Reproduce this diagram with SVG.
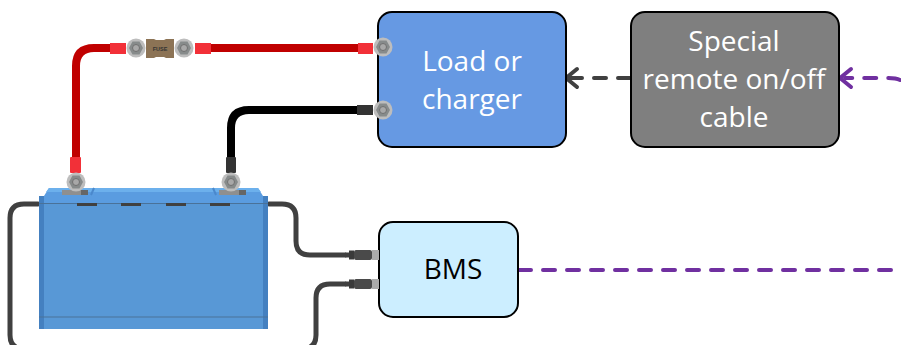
<svg xmlns="http://www.w3.org/2000/svg" width="901" height="345" viewBox="0 0 901 345">
<style>
.box{stroke:#000;stroke-width:2}
.t{font-family:"Open Sans","Noto Sans",sans-serif;font-size:28px;text-anchor:middle}
.w{fill:none;stroke-linejoin:round}
.cable{fill:none;stroke:#404040;stroke-width:5;stroke-linecap:round}
.dd{fill:none;stroke:#404040;stroke-width:4;stroke-linecap:round;stroke-dasharray:12 12}
.dp{fill:none;stroke:#7030a0;stroke-width:4;stroke-linecap:round;stroke-dasharray:12 12}
.ah{fill:none;stroke-width:4;stroke-linecap:round;stroke-linejoin:round}
</style>
<defs>
<g id="nut"><circle r="9.500" fill="#bdbdbd"/><path d="M-7 0L-3.500-6.500H3.500L7 0L3.500 6.500H-3.500Z" fill="#878b8b"/><circle r="3.500" fill="#a8a8a8" stroke="#707070" stroke-width="1"/></g>
<g id="plug"><rect x="0" y="-2.500" width="4" height="5" fill="#404040"/><rect x="4" y="-4.500" width="5" height="9" fill="#3a3a3a"/><rect x="9" y="-5" width="18" height="10" rx="2" fill="#4a4a4a"/><rect x="27" y="-5" width="7" height="10" fill="#ababab"/></g>
</defs>
<g id="connectors">
<path class="w" stroke="#c00000" stroke-width="8" d="M76 160V66Q76 48 94 48H112M205 48H360"/>
<path class="w" stroke="#000" stroke-width="8" d="M231 160V128Q231 110 249 110H360"/>
<path class="cable" d="M38 204H24Q10 204 10 218V335Q10 349 24 349H302Q316 349 316 335V298Q316 284 330 284H345"/>
<path class="cable" d="M269 204H282Q296 204 296 218V241Q296 255 310 255H345"/>
<path class="dd" d="M630 78H570"/>
<path class="ah" stroke="#404040" d="M577 69L566 78L577 87"/>
<path class="dp" d="M900 80Q896 78 888 78H845"/>
<path class="ah" stroke="#7030a0" d="M851 69L840 78L851 87"/>
<path class="dp" d="M519 270H901"/>
</g>
<g id="load"><rect class="box" x="378" y="12" width="188" height="135" rx="14" fill="#6699e3"/>
<text class="t" x="472" y="71" fill="#fff">Load or</text><text class="t" x="472" y="109" fill="#fff">charger</text></g>
<g id="remote"><rect class="box" x="631" y="12" width="208" height="135" rx="14" fill="#7f7f7f"/>
<text class="t" x="734" y="51" fill="#fff">Special</text><text class="t" x="734" y="89" fill="#fff">remote on/off</text><text class="t" x="734" y="127" fill="#fff">cable</text></g>
<g id="bms"><rect class="box" x="379" y="222" width="139" height="95" rx="14" fill="#cceeff"/>
<text class="t" x="453" y="279" fill="#000">BMS</text></g>
<g id="bms-plugs"><use href="#plug" x="345" y="255"/><use href="#plug" x="345" y="284"/></g>
<g id="battery">
<path d="M44 196L49 188H258L263 196V204H44Z" fill="#5a9ce0"/>
<path d="M49 188H258L261 192H46Z" fill="#6cb0ec"/>
<rect x="39" y="203" width="229" height="126" fill="#5898d6"/>
<rect x="39" y="196" width="5" height="133" fill="#4480c0"/><rect x="263" y="196" width="5" height="133" fill="#4480c0"/>
<path d="M39 203.500H268M39 317H268" stroke="#4a7299" stroke-width="1"/>
<path d="M77 204.500H97M121 204.500H141M166 204.500H186M210 204.500H230" stroke="#404040" stroke-width="3"/>
<path d="M91 195L94 188M213 188L216 195" stroke="#4a88cc" stroke-width="2" fill="none"/>
<rect x="62" y="190" width="26" height="5" fill="#8f8f8f"/><rect x="81" y="190" width="7" height="5" fill="#666"/>
<rect x="219" y="190" width="27" height="5" fill="#8f8f8f"/><rect x="239" y="190" width="7" height="5" fill="#666"/>
</g>
<g id="terminals">
<rect x="70" y="157" width="11" height="16" rx="1" fill="#f23038"/>
<rect x="226" y="157" width="10" height="16" rx="1" fill="#333"/>
<use href="#nut" x="76" y="182"/><use href="#nut" x="231" y="182"/>
</g>
<g id="fuse">
<rect x="110" y="43" width="16" height="11" fill="#f23038"/><rect x="195" y="43" width="16" height="11" fill="#f23038"/>
<use href="#nut" x="136" y="48"/><use href="#nut" x="184" y="48"/>
<path d="M146 39H154L156 40H164L166 39H174V58H166L164 57H156L154 58H146Z" fill="#8c7355"/>
<text x="160" y="51" font-family="'Liberation Sans',sans-serif" font-size="5.500" font-weight="bold" text-anchor="middle" fill="#333">FUSE</text>
</g>
<g id="load-terminals">
<rect x="358" y="43" width="15" height="11" fill="#f23038"/><rect x="357" y="105" width="16" height="10" fill="#333"/>
<use href="#nut" x="383" y="47"/><use href="#nut" x="383" y="110"/>
</g>
</svg>
